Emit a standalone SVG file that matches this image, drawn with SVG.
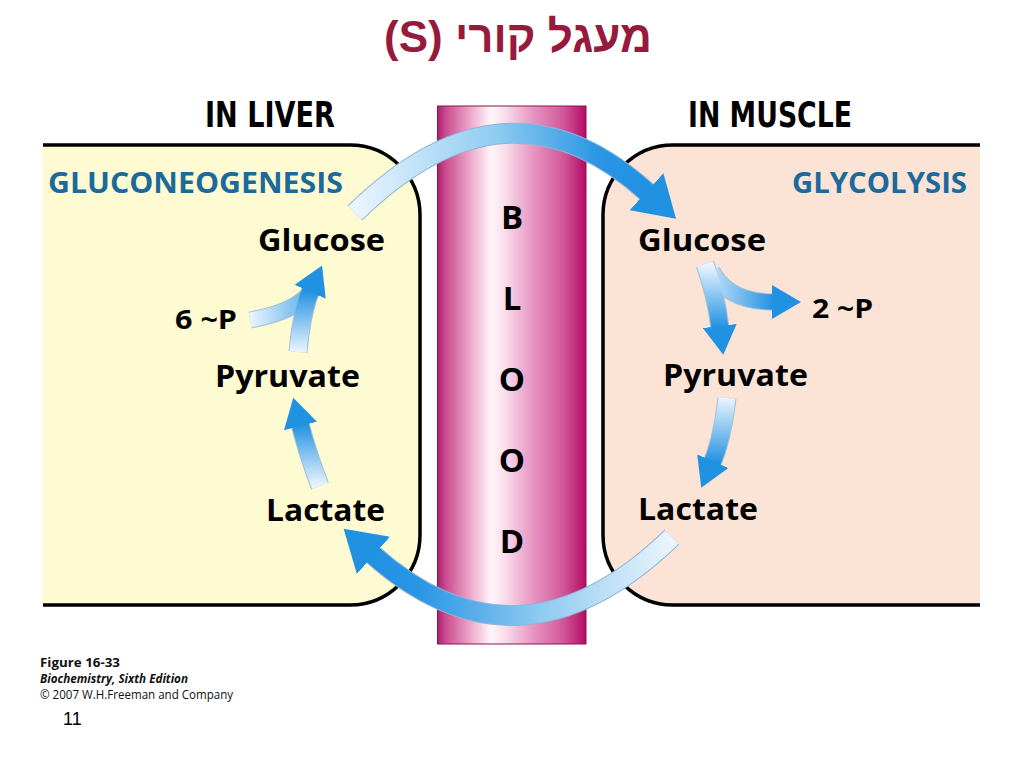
<svg xmlns="http://www.w3.org/2000/svg" width="1024" height="768" viewBox="0 0 1024 768">
<style>
.lbl{font-family:"Open Sans","Noto Sans","DejaVu Sans",sans-serif;font-weight:700;fill:#000}
.hdr{font-family:"DejaVu Sans","Liberation Sans",sans-serif;font-weight:700;fill:#000}
.proc{font-family:"Open Sans","Noto Sans",sans-serif;font-weight:700;fill:#1c6a9c}
.blood{font-family:"Open Sans","Noto Sans",sans-serif;font-weight:700;font-size:33px;fill:#000;text-anchor:middle}
.foot{font-family:"Open Sans","Noto Sans",sans-serif;font-size:13px;fill:#111}
.box{stroke:#000;stroke-width:3.5;fill:none}
.under{fill:none;stroke-linecap:butt}
.body{fill:none;stroke-linecap:butt}
</style>
<defs>
<linearGradient id="bloodG" x1="0" y1="0" x2="1" y2="0">
<stop offset="0" stop-color="#a8246a"/>
<stop offset="0.06" stop-color="#cc4e92"/>
<stop offset="0.22" stop-color="#eca6cb"/>
<stop offset="0.36" stop-color="#fff6fa"/>
<stop offset="0.46" stop-color="#f8dbea"/>
<stop offset="0.65" stop-color="#e692bf"/>
<stop offset="0.85" stop-color="#d0579a"/>
<stop offset="1" stop-color="#b50a63"/>
</linearGradient>
<marker id="headBig" markerUnits="userSpaceOnUse" markerWidth="42" markerHeight="50" viewBox="0 0 42 50" refX="2" refY="25" orient="auto">
<path d="M0,0 L40,25 L0,50 Z" fill="#2191e2"/>
</marker>
<marker id="headSmall" markerUnits="userSpaceOnUse" markerWidth="30" markerHeight="34" viewBox="0 0 30 34" refX="2" refY="17" orient="auto">
<path d="M0,0 L29,17 L0,34 Z" fill="#2191e2"/>
</marker>
<linearGradient id="gTop" gradientUnits="userSpaceOnUse" x1="355" y1="212" x2="645" y2="190">
<stop offset="0" stop-color="#eaf5fd"/><stop offset="0.5" stop-color="#90ccf1"/><stop offset="0.85" stop-color="#2a96e4"/><stop offset="1" stop-color="#2191e2"/>
</linearGradient>
<linearGradient id="gBot" gradientUnits="userSpaceOnUse" x1="672" y1="537" x2="372" y2="553">
<stop offset="0" stop-color="#eaf5fd"/><stop offset="0.45" stop-color="#8fcaf0"/><stop offset="0.85" stop-color="#2a96e4"/><stop offset="1" stop-color="#2191e2"/>
</linearGradient>
<linearGradient id="gL1" gradientUnits="userSpaceOnUse" x1="0" y1="486" x2="0" y2="424">
<stop offset="0" stop-color="#eaf5fd"/><stop offset="1" stop-color="#2191e2"/>
</linearGradient>
<linearGradient id="gL2" gradientUnits="userSpaceOnUse" x1="0" y1="352" x2="0" y2="290">
<stop offset="0" stop-color="#eaf5fd"/><stop offset="1" stop-color="#2191e2"/>
</linearGradient>
<linearGradient id="gL3" gradientUnits="userSpaceOnUse" x1="250" y1="0" x2="308" y2="0">
<stop offset="0" stop-color="#eaf5fd"/><stop offset="1" stop-color="#5fb0ea"/>
</linearGradient>
<linearGradient id="gR1" gradientUnits="userSpaceOnUse" x1="0" y1="265" x2="0" y2="328">
<stop offset="0" stop-color="#eaf5fd"/><stop offset="1" stop-color="#2191e2"/>
</linearGradient>
<linearGradient id="gR2" gradientUnits="userSpaceOnUse" x1="712" y1="0" x2="774" y2="0">
<stop offset="0" stop-color="#bfe0f7"/><stop offset="1" stop-color="#2191e2"/>
</linearGradient>
<linearGradient id="gR3" gradientUnits="userSpaceOnUse" x1="0" y1="398" x2="0" y2="463">
<stop offset="0" stop-color="#eaf5fd"/><stop offset="1" stop-color="#2191e2"/>
</linearGradient>
</defs>

<rect width="1024" height="768" fill="#fff"/>

<g id="title">
<text x="518" y="52" direction="rtl" text-anchor="middle" font-family="'Liberation Sans','DejaVu Sans',sans-serif" font-weight="700" font-size="44" fill="#961a3c">מעגל קורי (S)</text>
</g>

<g id="liver-box">
<path d="M43 145 H350 A70 70 0 0 1 420 215 V535 A70 70 0 0 1 350 605 H43 Z" fill="#fefbd2"/>
<path class="box" d="M43 145 H350 A70 70 0 0 1 420 215 V535 A70 70 0 0 1 350 605 H43"/>
<text class="hdr" x="205" y="127" font-size="35" textLength="130" lengthAdjust="spacingAndGlyphs">IN LIVER</text>
<text class="proc" x="48" y="193" font-size="29" textLength="295" lengthAdjust="spacingAndGlyphs">GLUCONEOGENESIS</text>
</g>

<g id="muscle-box">
<path d="M980 145 H673 A70 70 0 0 0 603 215 V535 A70 70 0 0 0 673 605 H980 Z" fill="#fbe3d6"/>
<path class="box" d="M980 145 H673 A70 70 0 0 0 603 215 V535 A70 70 0 0 0 673 605 H980"/>
<text class="hdr" x="688" y="127" font-size="35" textLength="164" lengthAdjust="spacingAndGlyphs">IN MUSCLE</text>
<text class="proc" x="792" y="193" font-size="29" textLength="175" lengthAdjust="spacingAndGlyphs">GLYCOLYSIS</text>
</g>

<g id="blood">
<rect x="437.5" y="106" width="148.5" height="538" fill="url(#bloodG)" stroke="#8a1450" stroke-width="1"/>
<text class="blood" x="512" y="229">B</text>
<text class="blood" x="512" y="310">L</text>
<text class="blood" x="512" y="391">O</text>
<text class="blood" x="512" y="472">O</text>
<text class="blood" x="512" y="553">D</text>
</g>

<g id="liver-glucose"><text class="lbl" x="258" y="251" font-size="31" textLength="127" lengthAdjust="spacingAndGlyphs">Glucose</text></g>
<g id="liver-6p"><text class="lbl" x="175" y="329" font-size="26" textLength="62" lengthAdjust="spacingAndGlyphs">6 ~P</text></g>
<g id="liver-pyruvate"><text class="lbl" x="215" y="387" font-size="31" textLength="145" lengthAdjust="spacingAndGlyphs">Pyruvate</text></g>
<g id="liver-lactate"><text class="lbl" x="266" y="521" font-size="31" textLength="119" lengthAdjust="spacingAndGlyphs">Lactate</text></g>

<g id="muscle-glucose"><text class="lbl" x="638" y="251" font-size="31" textLength="128" lengthAdjust="spacingAndGlyphs">Glucose</text></g>
<g id="muscle-2p"><text class="lbl" x="812" y="318" font-size="26" textLength="61" lengthAdjust="spacingAndGlyphs">2 ~P</text></g>
<g id="muscle-pyruvate"><text class="lbl" x="663" y="386" font-size="31" textLength="145" lengthAdjust="spacingAndGlyphs">Pyruvate</text></g>
<g id="muscle-lactate"><text class="lbl" x="638" y="520" font-size="31" textLength="120" lengthAdjust="spacingAndGlyphs">Lactate</text></g>

<g id="connectors">
<path class="under" d="M355 213 Q507 64 648 193" stroke="#8fb6d6" stroke-width="21"/>
<path class="under" d="M672 537 Q519 685 372 554" stroke="#8fb6d6" stroke-width="21"/>
<path class="under" d="M320 486 Q308 455 300 424" stroke="#9cc0dc" stroke-width="19"/>
<path class="under" d="M250 320 Q290 313 307 296" stroke="#9cc0dc" stroke-width="17"/>
<path class="under" d="M298 352 Q302 310 311 290" stroke="#9cc0dc" stroke-width="19"/>
<path class="under" d="M712 271 Q728 302 774 302" stroke="#9cc0dc" stroke-width="17"/>
<path class="under" d="M705 264 Q716 295 720 328" stroke="#9cc0dc" stroke-width="19"/>
<path class="under" d="M727 398 Q722 440 712 463" stroke="#9cc0dc" stroke-width="19"/>
<path class="body" d="M355 213 Q507 64 648 193" stroke="url(#gTop)" stroke-width="19" marker-end="url(#headBig)"/>
<path class="body" d="M672 537 Q519 685 372 554" stroke="url(#gBot)" stroke-width="19" marker-end="url(#headBig)"/>
<path class="body" d="M320 486 Q308 455 300 424" stroke="url(#gL1)" stroke-width="17" marker-end="url(#headSmall)"/>
<path class="body" d="M250 320 Q290 313 307 296" stroke="url(#gL3)" stroke-width="15"/>
<path class="body" d="M298 352 Q302 310 311 290" stroke="url(#gL2)" stroke-width="17" marker-end="url(#headSmall)"/>
<path class="body" d="M712 271 Q728 302 774 302" stroke="url(#gR2)" stroke-width="15" marker-end="url(#headSmall)"/>
<path class="body" d="M705 264 Q716 295 720 328" stroke="url(#gR1)" stroke-width="17" marker-end="url(#headSmall)"/>
<path class="body" d="M727 398 Q722 440 712 463" stroke="url(#gR3)" stroke-width="17" marker-end="url(#headSmall)"/>
</g>

<g id="footer">
<text class="foot" x="40" y="667" font-weight="700" textLength="80" lengthAdjust="spacingAndGlyphs">Figure 16-33</text>
<text class="foot" x="40" y="683" font-weight="700" font-style="italic" textLength="148" lengthAdjust="spacingAndGlyphs">Biochemistry, Sixth Edition</text>
<text class="foot" x="40" y="699" textLength="193" lengthAdjust="spacingAndGlyphs">© 2007 W.H.Freeman and Company</text>
<text x="63" y="725" font-family="'Liberation Sans',Arial,sans-serif" font-size="18" fill="#000">11</text>
</g>
</svg>
